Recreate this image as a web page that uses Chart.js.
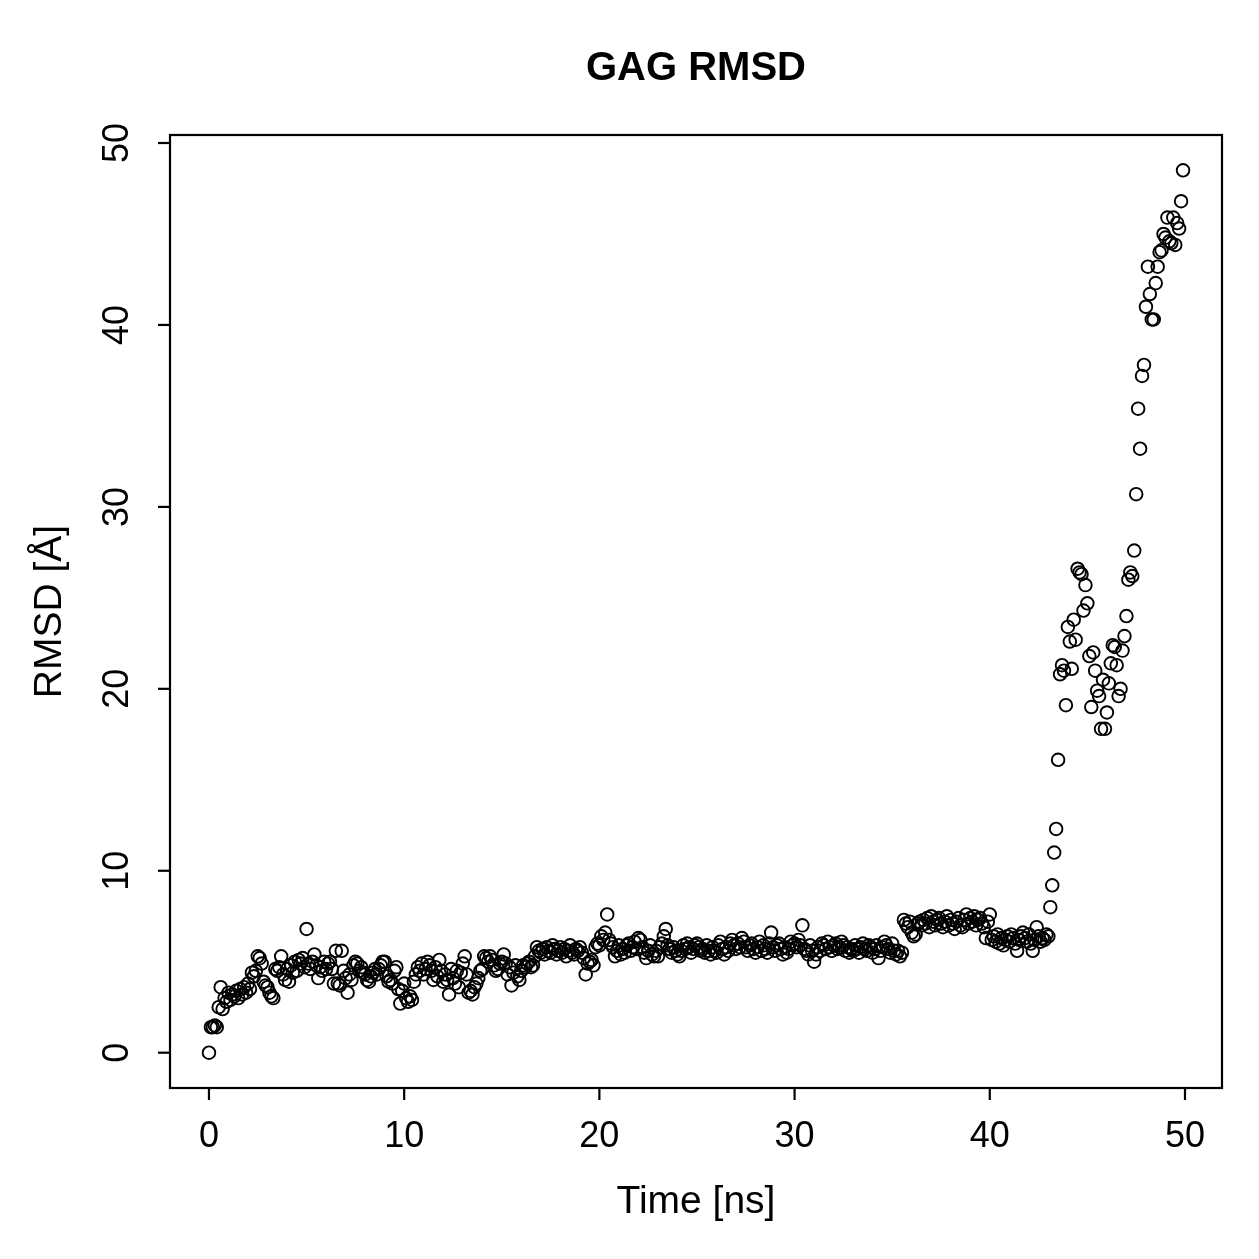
<!DOCTYPE html>
<html>
<head>
<meta charset="utf-8">
<title>GAG RMSD</title>
<script src="https://cdn.jsdelivr.net/npm/chart.js@4.4.0/dist/chart.umd.min.js"></script>
<style>
  html, body { margin: 0; padding: 0; background: #ffffff; }
  #wrap { width: 1259px; height: 1259px; }
</style>
</head>
<body>
<div id="wrap"><canvas id="rmsdChart" width="1259" height="1259"></canvas></div>
<script>
// RMSD values, one frame every 0.1 ns, one row per ns
const rmsd = [
  0.0, 1.4, 1.4, 1.5, 1.4, 2.5, 3.6, 2.4, 3.0, 2.8,   // 0
  3.3, 2.9, 3.2, 3.1, 3.4, 3.0, 3.5, 3.2, 3.6, 3.3,   // 1
  3.8, 3.5, 4.4, 4.2, 4.5, 5.3, 5.2, 4.9, 3.9, 3.7,   // 2
  3.6, 3.3, 3.1, 3.0, 4.6, 4.5, 4.7, 5.3, 4.3, 4.0,   // 3
  4.6, 3.9, 4.8, 4.4, 5.0, 4.5, 5.1, 4.9, 5.2, 4.7,   // 4
  6.8, 4.9, 4.6, 5.0, 5.4, 4.8, 4.1, 4.7, 4.5, 5.0,   // 5
  4.6, 4.9, 5.0, 4.6, 3.8, 5.6, 3.8, 3.7, 5.6, 4.5,   // 6
  4.1, 3.3, 4.3, 4.0, 4.8, 5.0, 4.9, 4.5, 4.7, 4.4,   // 7
  4.3, 4.0, 3.9, 4.2, 4.4, 4.6, 4.3, 4.6, 4.8, 5.0,   // 8
  5.0, 4.2, 3.9, 4.0, 3.8, 4.5, 4.7, 3.5, 2.7, 3.4,   // 9
  3.8, 3.0, 2.8, 3.1, 2.9, 3.9, 4.3, 4.7, 4.5, 4.9,   // 10
  4.3, 4.6, 5.0, 4.8, 4.5, 4.0, 4.7, 4.2, 5.1, 4.5,   // 11
  3.9, 4.3, 4.0, 3.2, 4.6, 4.1, 3.8, 4.5, 3.6, 4.4,   // 12
  4.9, 5.3, 4.3, 3.3, 3.4, 3.2, 3.6, 3.8, 4.1, 4.5,   // 13
  4.6, 5.3, 5.2, 5.0, 5.3, 5.1, 4.8, 4.5, 4.6, 4.9,   // 14
  5.0, 5.4, 4.9, 4.3, 4.7, 3.7, 4.4, 4.8, 4.2, 4.0,   // 15
  4.5, 4.8, 4.7, 4.9, 5.0, 4.7, 4.8, 5.3, 5.8, 5.6,   // 16
  5.5, 5.7, 5.4, 5.8, 5.6, 5.5, 5.9, 5.7, 5.4, 5.6,   // 17
  5.8, 5.5, 5.7, 5.3, 5.6, 5.9, 5.5, 5.4, 5.7, 5.6,   // 18
  5.8, 5.5, 5.2, 4.3, 4.9, 5.0, 5.1, 4.8, 5.8, 6.0,   // 19
  5.9, 6.4, 6.2, 6.6, 7.6, 6.2, 6.0, 5.8, 5.3, 5.6,   // 20
  5.9, 5.4, 5.7, 5.5, 5.9, 6.0, 5.6, 5.8, 6.1, 5.7,   // 21
  6.3, 6.2, 5.8, 5.5, 5.2, 5.6, 5.9, 5.4, 5.3, 5.6,   // 22
  5.3, 5.8, 6.0, 6.4, 6.8, 5.9, 5.7, 5.5, 5.8, 5.6,   // 23
  5.4, 5.3, 5.6, 5.9, 5.7, 6.0, 5.8, 5.5, 5.7, 5.9,   // 24
  6.0, 5.8, 5.6, 5.7, 5.5, 5.9, 5.6, 5.4, 5.8, 5.6,   // 25
  5.5, 5.9, 6.1, 5.7, 5.4, 5.8, 5.6, 6.0, 6.2, 5.9,   // 26
  5.7, 6.0, 5.8, 6.3, 6.1, 5.8, 5.6, 5.9, 6.0, 5.7,   // 27
  5.5, 5.8, 6.1, 5.6, 5.9, 5.7, 5.5, 6.0, 6.6, 5.8,   // 28
  5.6, 5.9, 6.0, 5.7, 5.4, 5.8, 5.5, 5.7, 6.1, 5.9,   // 29
  6.0, 5.8, 6.2, 5.9, 7.0, 5.7, 5.6, 5.4, 5.9, 5.6,   // 30
  5.0, 5.4, 5.8, 5.6, 6.0, 5.9, 5.7, 6.1, 5.8, 5.6,   // 31
  5.9, 6.0, 5.7, 5.8, 6.1, 5.9, 5.6, 5.8, 5.5, 5.7,   // 32
  5.6, 5.9, 5.7, 5.5, 5.8, 6.0, 5.7, 5.6, 5.9, 5.8,   // 33
  5.5, 5.7, 5.9, 5.2, 5.6, 5.8, 6.1, 5.9, 5.7, 5.5,   // 34
  6.0, 5.6, 5.4, 5.6, 5.3, 5.5, 7.3, 7.1, 6.9, 7.2,   // 35
  6.6, 6.4, 6.5, 7.1, 7.2, 7.0, 7.3, 7.1, 7.4, 6.9,   // 36
  7.5, 7.2, 7.0, 7.3, 7.4, 7.1, 6.9, 7.2, 7.5, 7.0,   // 37
  7.3, 7.1, 6.8, 7.2, 7.4, 7.0, 6.9, 7.3, 7.6, 7.1,   // 38
  7.4, 7.2, 7.5, 7.0, 7.3, 7.4, 7.1, 6.9, 6.3, 7.2,   // 39
  7.6, 6.2, 6.4, 6.1, 6.5, 6.0, 6.3, 5.9, 6.2, 6.4,   // 40
  6.1, 6.5, 6.3, 6.0, 5.6, 6.2, 6.4, 6.6, 6.3, 6.1,   // 41
  6.5, 6.0, 5.6, 6.2, 6.9, 6.4, 6.1, 6.3, 6.2, 6.5,   // 42
  6.4, 8.0, 9.2, 11.0, 12.3, 16.1, 20.8, 21.3, 21.0, 19.1,  // 43
  23.4, 22.6, 21.1, 23.8, 22.7, 26.6, 26.4, 26.3, 24.3, 25.7, // 44
  24.7, 21.8, 19.0, 22.0, 21.0, 19.9, 19.6, 17.8, 20.5, 17.8, // 45
  18.7, 20.3, 21.4, 22.4, 22.3, 21.3, 19.6, 20.0, 22.1, 22.9, // 46
  24.0, 26.0, 26.4, 26.2, 27.6, 30.7, 35.4, 33.2, 37.2, 37.8, // 47
  41.0, 43.2, 41.7, 40.3, 40.3, 42.3, 43.2, 44.0, 44.1, 45.0, // 48
  44.8, 45.9, 44.6, 44.5, 45.9, 44.4, 45.6, 45.3, 46.8, 48.5  // 49
];
const frameStep = 0.1; // ns between frames
const xTicks = [0, 10, 20, 30, 40, 50];
const yTicks = [0, 10, 20, 30, 40, 50];

const points = rmsd.map((v, i) => ({ x: +(i * frameStep).toFixed(1), y: v }));

const FONT = '"Liberation Sans", Arial, Helvetica, sans-serif';

// R-style box, ticks and labels drawn from the chart's own scales
const frame = {
  id: 'frame',
  afterDraw(chart) {
    const { ctx, chartArea: a, scales: { x, y } } = chart;
    ctx.save();
    ctx.strokeStyle = '#000';
    ctx.fillStyle = '#000';
    ctx.lineWidth = 2.2;
    ctx.strokeRect(a.left, a.top, a.right - a.left, a.bottom - a.top);

    ctx.font = '36px ' + FONT;
    ctx.textAlign = 'center';
    ctx.textBaseline = 'middle';
    xTicks.forEach(v => {
      const px = x.getPixelForValue(v);
      ctx.beginPath();
      ctx.moveTo(px, a.bottom);
      ctx.lineTo(px, a.bottom + 12);
      ctx.stroke();
      ctx.fillText(String(v), px, a.bottom + 49);
    });
    yTicks.forEach(v => {
      const py = y.getPixelForValue(v);
      ctx.beginPath();
      ctx.moveTo(a.left, py);
      ctx.lineTo(a.left - 12, py);
      ctx.stroke();
      ctx.save();
      ctx.translate(a.left - 52, py);
      ctx.rotate(-Math.PI / 2);
      ctx.fillText(String(v), 0, 0);
      ctx.restore();
    });

    const cx = (a.left + a.right) / 2;
    const cy = (a.top + a.bottom) / 2;
    ctx.font = '39px ' + FONT;
    ctx.fillText('Time [ns]', cx, a.bottom + 114);
    ctx.save();
    ctx.translate(a.left - 120, cy);
    ctx.rotate(-Math.PI / 2);
    ctx.fillText('RMSD [Å]', 0, 0);
    ctx.restore();

    ctx.font = 'bold 40px ' + FONT;
    ctx.fillText('GAG RMSD', cx, 69);
    ctx.restore();
  }
};

const ctx = document.getElementById('rmsdChart').getContext('2d');
new Chart(ctx, {
  type: 'scatter',
  data: {
    datasets: [{
      label: 'RMSD',
      data: points,
      pointStyle: 'circle',
      pointRadius: 6.3,
      pointBorderWidth: 1.9,
      borderColor: '#000000',
      backgroundColor: 'rgba(0,0,0,0)'
    }]
  },
  options: {
    responsive: false,
    devicePixelRatio: 1,
    animation: false,
    layout: {
      padding: { left: 170, top: 135, right: 37, bottom: 171 }
    },
    plugins: {
      legend: { display: false },
      tooltip: { enabled: false }
    },
    scales: {
      x: {
        type: 'linear',
        min: -1.996,
        max: 51.896,
        display: false
      },
      y: {
        type: 'linear',
        min: -1.94,
        max: 50.44,
        display: false
      }
    }
  },
  plugins: [frame]
});
</script>
</body>
</html>
